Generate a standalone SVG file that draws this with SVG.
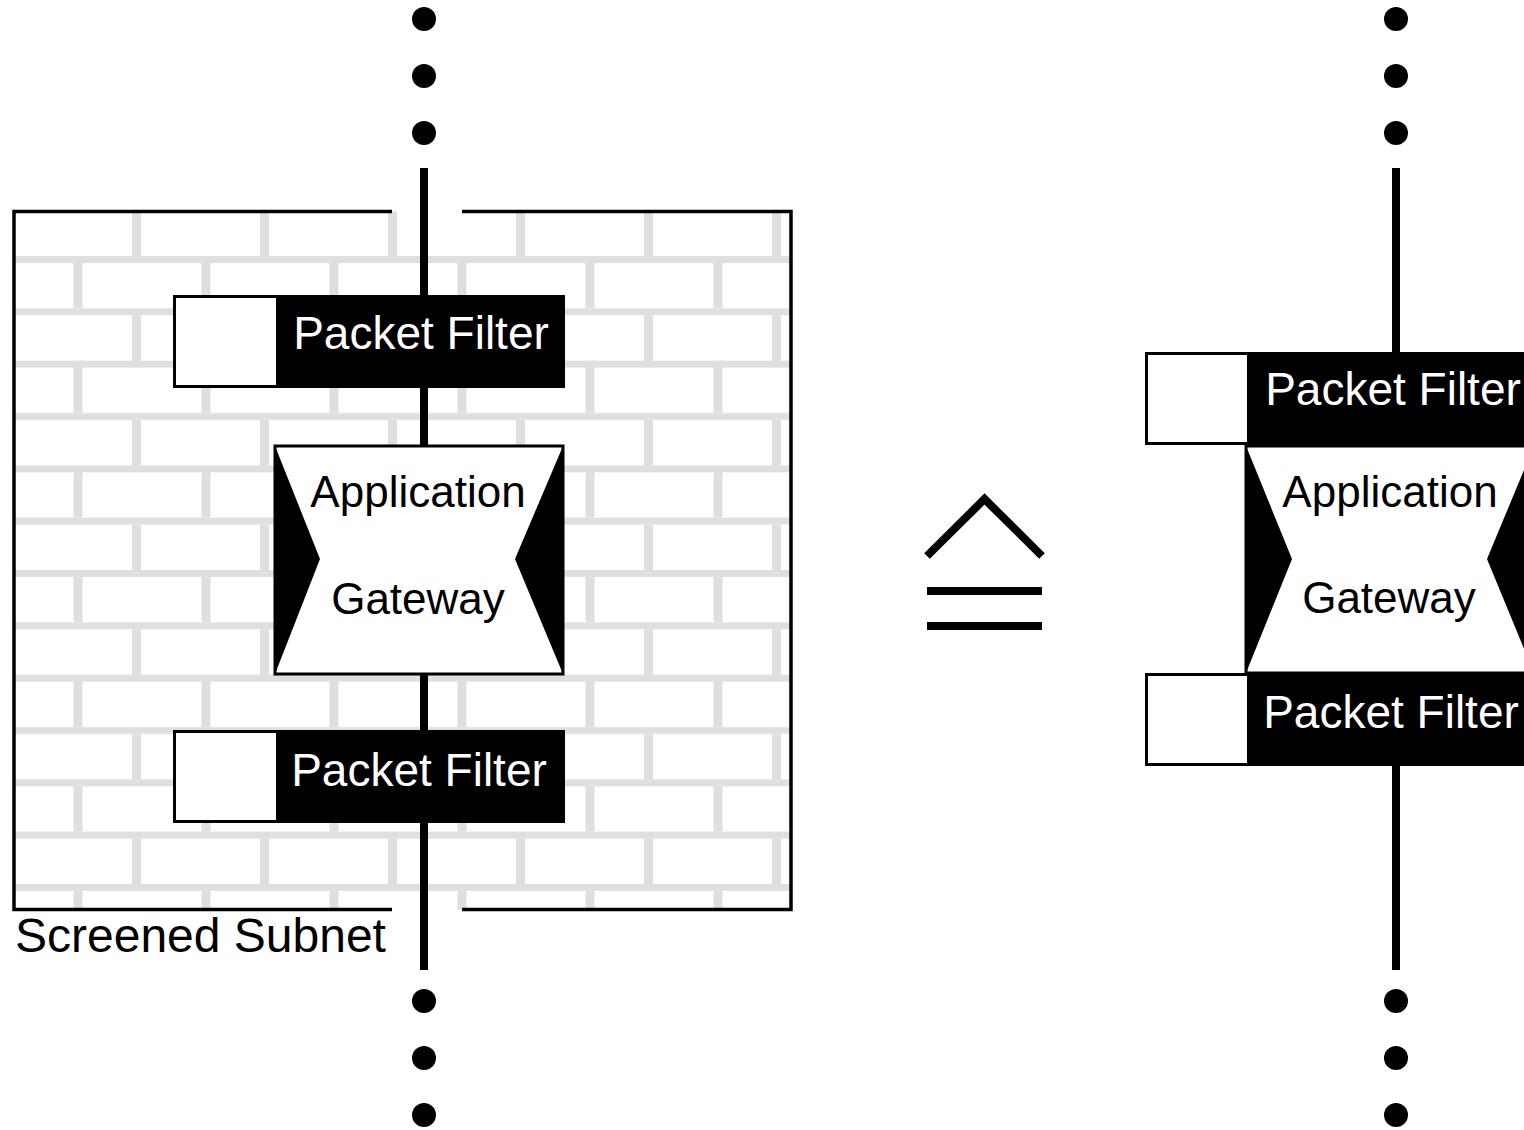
<svg xmlns="http://www.w3.org/2000/svg" width="1524" height="1130" viewBox="0 0 1524 1130">
<style>
.wire{stroke:#000;stroke-width:8;fill:none}
.frame{stroke:#000;stroke-width:3.5;fill:none}
.pfbg{fill:#000}
.pfbox{fill:#fff;stroke:#000;stroke-width:2}
.pftxt{font-family:"Liberation Sans",Arial,sans-serif;font-size:46px;fill:#fff;text-anchor:middle}
.gwbox{fill:#fff;stroke:#000;stroke-width:3}
.gwtri{fill:#000}
.gwtxt{font-family:"Liberation Sans",Arial,sans-serif;font-size:44px;fill:#000;text-anchor:middle}
.lbl{font-family:"Liberation Sans",Arial,sans-serif;font-size:48px;fill:#000}
.sym{stroke:#000;stroke-width:8;fill:none}
</style>
<defs>
<pattern id="bricks" patternUnits="userSpaceOnUse" x="0" y="256" width="128" height="104.667">
<rect x="0" y="0" width="128" height="104.667" fill="#fff"/>
<rect x="0" y="0" width="128" height="7" fill="#dfdfdf"/>
<rect x="73.5" y="7" width="9" height="45.33" fill="#dfdfdf"/>
<rect x="0" y="52.33" width="128" height="7" fill="#dfdfdf"/>
<rect x="4" y="59.33" width="9" height="45.34" fill="#dfdfdf"/>
</pattern>
<circle id="dot" r="12" fill="#000"/>
</defs>
<rect width="1524" height="1130" fill="#fff"/>
<g id="screened-subnet">
<rect x="14" y="211.5" width="777" height="698" fill="url(#bricks)"/>
<path class="frame" d="M392,211.5 H14 V909.5 H392 M462,909.5 H791 V211.5 H462"/>
<text class="lbl" x="15" y="952">Screened Subnet</text>
</g>
<g id="connectors">
<line class="wire" x1="424" y1="168" x2="424" y2="970"/>
<line class="wire" x1="1396" y1="168" x2="1396" y2="353"/>
<line class="wire" x1="1396" y1="765" x2="1396" y2="970"/>
<use href="#dot" x="424" y="19"/>
<use href="#dot" x="424" y="76"/>
<use href="#dot" x="424" y="133"/>
<use href="#dot" x="424" y="1001"/>
<use href="#dot" x="424" y="1058"/>
<use href="#dot" x="424" y="1115"/>
<use href="#dot" x="1396" y="19"/>
<use href="#dot" x="1396" y="76"/>
<use href="#dot" x="1396" y="133"/>
<use href="#dot" x="1396" y="1001"/>
<use href="#dot" x="1396" y="1058"/>
<use href="#dot" x="1396" y="1115"/>
</g>
<g id="pf-left-top">
<rect class="pfbg" x="173" y="295" width="392" height="93"/>
<rect class="pfbox" x="175" y="297" width="102" height="89"/>
<text class="pftxt" x="421" y="349">Packet Filter</text>
</g>
<g id="gw-left">
<rect class="gwbox" x="275" y="446" width="288" height="228"/>
<polygon class="gwtri" points="275,446 320,559 275,674"/>
<polygon class="gwtri" points="563,446 515,559 563,674"/>
<text class="gwtxt" x="418" y="507">Application</text>
<text class="gwtxt" x="418" y="614">Gateway</text>
</g>
<g id="pf-left-bottom">
<rect class="pfbg" x="173" y="730" width="392" height="93"/>
<rect class="pfbox" x="175" y="732" width="102" height="89"/>
<text class="pftxt" x="419" y="786">Packet Filter</text>
</g>
<g id="equivalence">
<polyline class="sym" stroke-width="6.5" points="927,556 984.5,499 1042,556"/>
<line class="sym" x1="927" y1="591" x2="1042" y2="591"/>
<line class="sym" x1="927" y1="626" x2="1042" y2="626"/>
</g>
<g id="gw-right">
<rect class="gwbox" x="1246" y="446" width="288" height="227"/>
<polygon class="gwtri" points="1246,446 1292,559 1246,673"/>
<polygon class="gwtri" points="1534,446 1487,559 1534,673"/>
<text class="gwtxt" x="1390" y="507">Application</text>
<text class="gwtxt" x="1389" y="613">Gateway</text>
</g>
<g id="pf-right-top">
<rect class="pfbg" x="1145" y="352" width="392" height="93"/>
<rect class="pfbox" x="1147" y="354" width="101" height="89"/>
<text class="pftxt" x="1393" y="405">Packet Filter</text>
</g>
<g id="pf-right-bottom">
<rect class="pfbg" x="1145" y="673" width="392" height="93"/>
<rect class="pfbox" x="1147" y="675" width="101" height="89"/>
<text class="pftxt" x="1391" y="728">Packet Filter</text>
</g>
</svg>
